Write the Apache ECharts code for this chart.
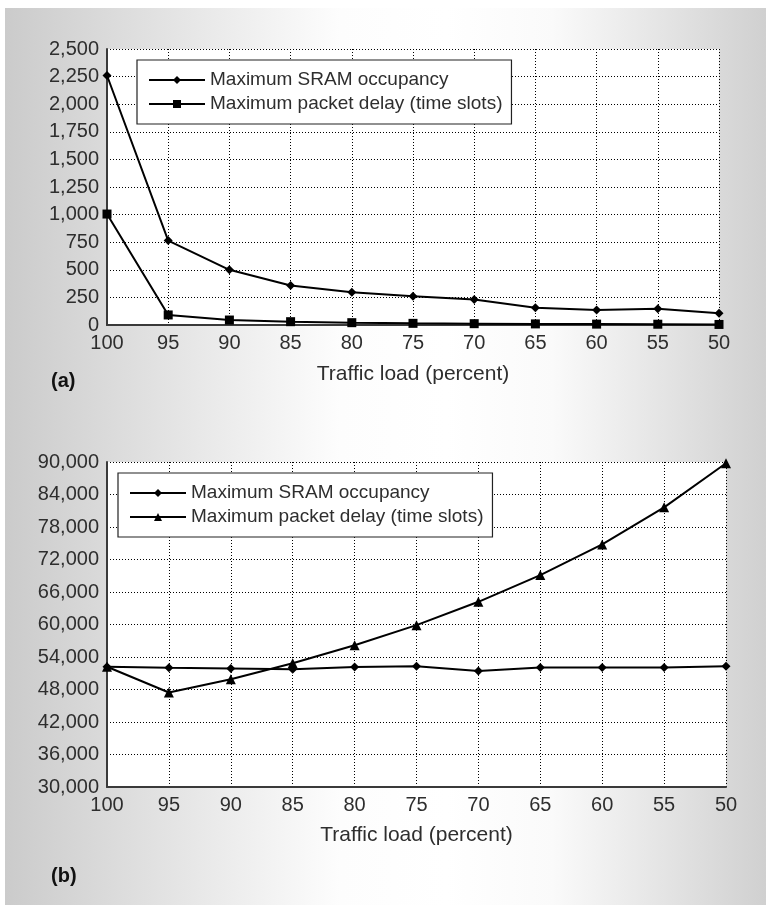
<!DOCTYPE html>
<html>
<head>
<meta charset="utf-8">
<script src="https://cdn.jsdelivr.net/npm/echarts@6/dist/echarts.min.js"></script>
<style>
  html, body { margin: 0; padding: 0; background: #ffffff; }
  #wrap { position: absolute; left: 0; top: 0; width: 766px; height: 910px; background: #ffffff; }
  #panel { position: absolute; left: 5px; top: 8px; width: 761px; height: 897px;
    background: linear-gradient(to right, #cbcbcb 0%, #fdfdfd 44%, #ffffff 58%, #fafafa 72%, #d0d0d0 100%); }
  #chart { position: absolute; left: 0; top: 0; width: 766px; height: 910px; }
</style>
</head>
<body>
<div id="wrap"><div id="panel"></div><div id="chart"></div></div>
<script>
// ---- data ----
const categories = ['100', '95', '90', '85', '80', '75', '70', '65', '60', '55', '50'];

// Chart (a)
const aSramOccupancy = [2260, 765, 500, 357, 296, 260, 230, 157, 136, 148, 106];
const aPacketDelay   = [1005, 91, 45, 30, 21, 15, 12, 10, 8, 7, 5];
const aYTicks = { min: 0, max: 2500, interval: 250 };

// Chart (b)
const bSramOccupancy = [52200, 52000, 51880, 51750, 52170, 52300, 51430, 52060, 52060, 52040, 52300];
const bPacketDelay   = [52200, 47440, 49900, 52860, 56180, 59880, 64190, 69120, 74790, 81630, 89760];
const bYTicks = { min: 30000, max: 90000, interval: 6000 };

const seriesNames = ['Maximum SRAM occupancy', 'Maximum packet delay (time slots)'];
const xAxisTitle = 'Traffic load (percent)';
const panelLabels = ['(a)', '(b)'];

// ---- styles ----
const FONT = '"Liberation Sans", Arial, Helvetica, sans-serif';
const TXT = '#2e2e2e';
const fmt = v => Number(v).toLocaleString('en-US');

function xAxisCfg(gridIndex, nameGap) {
  return {
    type: 'category', gridIndex, data: categories, boundaryGap: false,
    axisLine: { show: true, onZero: false, lineStyle: { color: '#3a3a3a', width: 2 } },
    axisTick: { show: false },
    axisLabel: { color: TXT, fontFamily: FONT, fontSize: 20, margin: 8 },
    splitLine: { show: true, lineStyle: { color: '#000', width: 1, type: [1, 2] } },
    name: xAxisTitle, nameLocation: 'middle', nameGap,
    nameTextStyle: { color: TXT, fontFamily: FONT, fontSize: 21 }
  };
}
function yAxisCfg(gridIndex, ticks) {
  return {
    type: 'value', gridIndex, min: ticks.min, max: ticks.max, interval: ticks.interval,
    axisLine: { show: true, lineStyle: { color: '#3a3a3a', width: 2 } },
    axisTick: { show: false },
    axisLabel: { color: TXT, fontFamily: FONT, fontSize: 20, margin: 8, formatter: fmt },
    splitLine: { show: true, lineStyle: { color: '#000', width: 1, type: [1, 2] } }
  };
}
function lineSeries(name, data, idx, symbol, size) {
  return {
    type: 'line', name, data, xAxisIndex: idx, yAxisIndex: idx,
    symbol, symbolSize: size, showSymbol: true,
    lineStyle: { color: '#000', width: 2 },
    itemStyle: { color: '#000' },
    emphasis: { disabled: true }, animation: false, z: 3
  };
}
function legendCfg(left, top) {
  return {
    show: true, orient: 'vertical', left, top,
    backgroundColor: '#fff', borderColor: '#222', borderWidth: 1.2,
    padding: [10, 9, 10, 11], itemGap: 4, itemWidth: 56, itemHeight: 10,
    textStyle: { color: TXT, fontFamily: FONT, fontSize: 19, lineHeight: 20 },
    selectedMode: false
  };
}

const chart = echarts.init(document.getElementById('chart'), null, { renderer: 'canvas' });
chart.setOption({
  animation: false,
  backgroundColor: 'transparent',
  title: [
    { text: panelLabels[0], left: 46, top: 366, textStyle: { fontFamily: FONT, fontSize: 20, fontWeight: 'bold', color: '#111' } },
    { text: panelLabels[1], left: 46, top: 861, textStyle: { fontFamily: FONT, fontSize: 20, fontWeight: 'bold', color: '#111' } }
  ],
  grid: [
    { left: 107, top: 49, width: 612, height: 276, show: true, backgroundColor: '#fff', borderWidth: 0 },
    { left: 107, top: 462, width: 619, height: 325, show: true, backgroundColor: '#fff', borderWidth: 0 }
  ],
  legend: [
    Object.assign(legendCfg(137, 60), { data: [{ name: 'a1' }, { name: 'a2' }], formatter: n => n === 'a1' ? seriesNames[0] : seriesNames[1] }),
    Object.assign(legendCfg(118, 473), { data: [{ name: 'b1' }, { name: 'b2' }], formatter: n => n === 'b1' ? seriesNames[0] : seriesNames[1] })
  ],
  xAxis: [xAxisCfg(0, 39), xAxisCfg(1, 38)],
  yAxis: [yAxisCfg(0, aYTicks), yAxisCfg(1, bYTicks)],
  series: [
    lineSeries('a1', aSramOccupancy, 0, 'diamond', 9),
    lineSeries('a2', aPacketDelay, 0, 'rect', 9),
    lineSeries('b1', bSramOccupancy, 1, 'diamond', 9),
    lineSeries('b2', bPacketDelay, 1, 'triangle', 10)
  ]
});
</script>
</body>
</html>
